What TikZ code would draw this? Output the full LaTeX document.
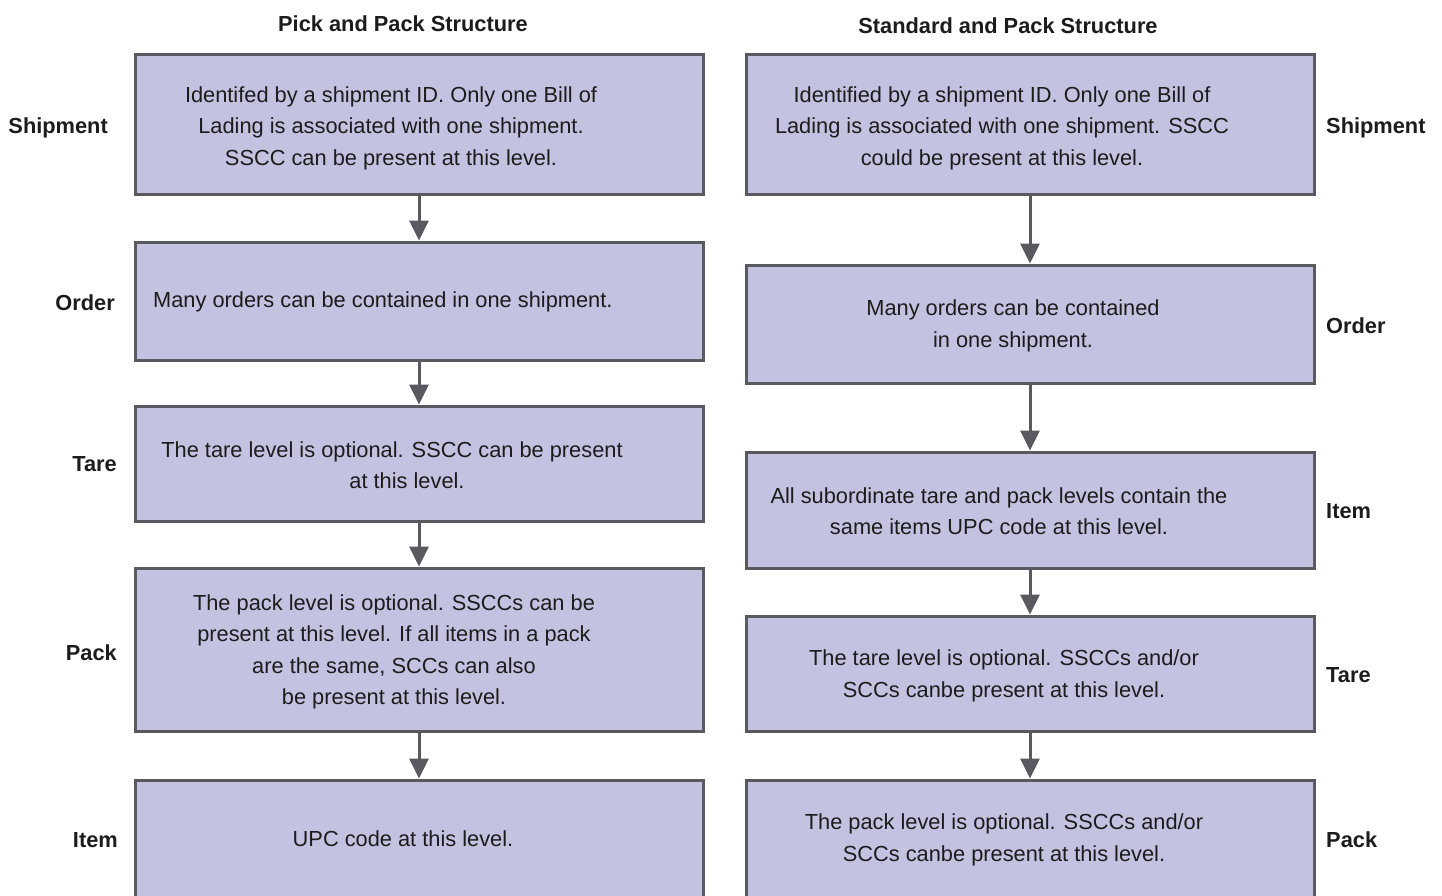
\documentclass[tikz,border=0pt]{standalone}
\usepackage{fontspec}
\setmainfont{Liberation Sans}
\usetikzlibrary{arrows.meta,positioning}
\definecolor{boxfill}{HTML}{C3C2E0}
\definecolor{boxline}{HTML}{5A5960}
\definecolor{ink}{HTML}{1C1C1C}

\begin{document}
\begin{tikzpicture}[x=1pt,y=-1pt,
  box/.style={draw=boxline, fill=boxfill, line width=3pt, minimum width=568pt, inner sep=0pt},
  txt/.style={text=ink, font=\fontsize{21.8}{31.5}\selectfont, align=center, inner sep=0pt},
  lvl/.style={text=ink, font=\fontsize{21.8}{31.5}\selectfont\bfseries, inner sep=0pt},
  arr/.style={draw=boxline, line width=3pt, -{Triangle[length=20pt,width=19pt]}}]
\clip (0,0) rectangle (1442,896);
\useasboundingbox (0,0) rectangle (1442,896);

% column titles
\node[lvl] (ttlL) at (403,24) {Pick and Pack Structure};
\node[lvl] (ttlR) at (1008,26) {Standard and Pack Structure};

% pick and pack column
\node[box, minimum height=140pt] (l1) at (419,125) {};
\node[box, minimum height=118pt] (l2) at (419,301) {};
\node[box, minimum height=115pt] (l3) at (419,463.5) {};
\node[box, minimum height=163pt] (l4) at (419,649.5) {};
\node[box, minimum height=140pt] (l5) at (419,850) {};

\node[txt] (l1txt) at (391,128) {Identifed by a shipment ID. Only one Bill of\\Lading is associated with one shipment.\\SSCC can be present at this level.};
\node[txt, anchor=west] (l2txt) at (153,302) {Many orders can be contained in one shipment.};
\node[txt] (l3txt) at (392,465) {The tare level is optional. SSCC can be present\\\hspace*{30pt}at this level.};
\node[txt] (l4txt) at (394,652) {The pack level is optional. SSCCs can be\\present at this level. If all items in a pack\\are the same, SCCs can also\\be present at this level.};
\node[txt] (l5txt) at (403,839) {UPC code at this level.};

\node[lvl, anchor=east] (lShip) at (108,128) {Shipment};
\node[lvl, anchor=east] (lOrd) at (115,303) {Order};
\node[lvl, anchor=east] (lTare) at (117,464) {Tare};
\node[lvl, anchor=east] (lPack) at (117,653) {Pack};
\node[lvl, anchor=east] (lItem) at (118,840) {Item};

\draw[arr] (l1) -- (l2);
\draw[arr] (l2) -- (l3);
\draw[arr] (l3) -- (l4);
\draw[arr] (l4) -- (l5);

% standard and pack column
\node[box, minimum height=140pt] (r1) at (1030,125) {};
\node[box, minimum height=118pt] (r2) at (1030,324) {};
\node[box, minimum height=116pt] (r3) at (1030,510) {};
\node[box, minimum height=115pt] (r4) at (1030,673.5) {};
\node[box, minimum height=140pt] (r5) at (1030,850) {};

\node[txt] (r1txt) at (1002,128) {Identified by a shipment ID. Only one Bill of\\Lading is associated with one shipment. SSCC\\could be present at this level.};
\node[txt] (r2txt) at (1013,326) {Many orders can be contained\\in one shipment.};
\node[txt] (r3txt) at (999,511) {All subordinate tare and pack levels contain the\\same items UPC code at this level.};
\node[txt] (r4txt) at (1004,676) {The tare level is optional. SSCCs and/or\\SCCs canbe present at this level.};
\node[txt] (r5txt) at (1004,840) {The pack level is optional. SSCCs and/or\\SCCs canbe present at this level.};

\node[lvl, anchor=west] (rShip) at (1326,128) {Shipment};
\node[lvl, anchor=west] (rOrd) at (1326,326) {Order};
\node[lvl, anchor=west] (rItem) at (1326,511) {Item};
\node[lvl, anchor=west] (rTare) at (1326,675) {Tare};
\node[lvl, anchor=west] (rPack) at (1326,840) {Pack};

\draw[arr] (r1) -- (r2);
\draw[arr] (r2) -- (r3);
\draw[arr] (r3) -- (r4);
\draw[arr] (r4) -- (r5);
\end{tikzpicture}
\end{document}
